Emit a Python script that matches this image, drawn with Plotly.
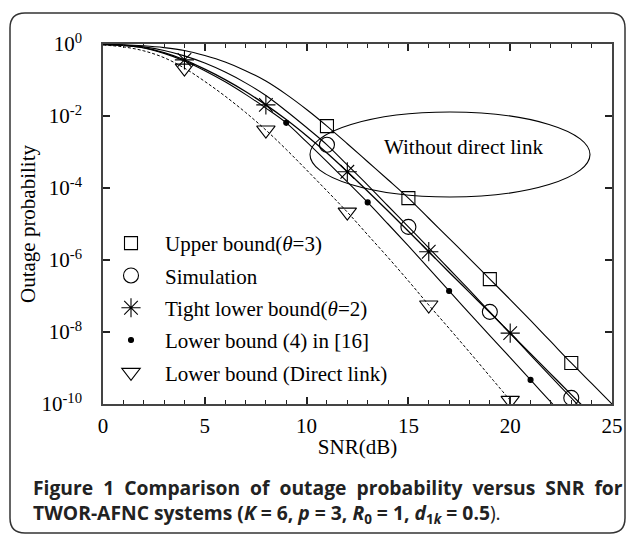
import plotly.graph_objects as go

# ---------------- data ----------------
snr = list(range(26))

# log10 of outage probability at each integer SNR (dB)
upper_exp = [-0.01, -0.02, -0.05, -0.10, -0.18, -0.32, -0.50, -0.74, -1.03, -1.40,
             -1.82, -2.28, -2.77, -3.27, -3.77, -4.28, -4.84, -5.40, -5.96, -6.53,
             -7.10, -7.68, -8.27, -8.86, -9.43, -10.0]
sim_exp = [-0.01, -0.03, -0.08, -0.18, -0.33, -0.53, -0.78, -1.08, -1.43, -1.86,
           -2.32, -2.80, -3.36, -3.92, -4.50, -5.08, -5.66, -6.25, -6.84, -7.44,
           -8.04, -8.64, -9.24, -9.83, -10.43]
tight_exp = [-0.01, -0.04, -0.10, -0.24, -0.44, -0.70, -0.99, -1.32, -1.69, -2.10,
             -2.55, -3.03, -3.55, -4.09, -4.64, -5.20, -5.77, -6.34, -6.90, -7.46,
             -8.03, -8.60, -9.17, -9.74, -10.30]
lb16_exp = [-0.01, -0.04, -0.11, -0.26, -0.47, -0.74, -1.05, -1.40, -1.78, -2.19,
            -2.72, -3.27, -3.83, -4.40, -5.00, -5.61, -6.23, -6.86, -7.48, -8.10,
            -8.71, -9.33, -9.95, -10.57]
direct_exp = [-0.03, -0.08, -0.19, -0.38, -0.67, -1.04, -1.45, -1.90, -2.39, -2.93,
              -3.50, -4.08, -4.67, -5.30, -5.93, -6.58, -7.25, -7.90, -8.56, -9.23,
              -9.90]

upper_marks = [11, 15, 19, 23]
sim_marks = [11, 15, 19, 23]
tight_marks = [4, 8, 12, 16, 20]
lb16_marks = [9, 13, 17, 21]
direct_marks = [4, 8, 12, 16, 20]

series_names = ["Upper bound(<i>θ</i>=3)", "Simulation", "Tight lower bound(<i>θ</i>=2)",
                "Lower bound (4) in [16]", "Lower bound (Direct link)"]

x_tick_vals = [0, 5, 10, 15, 20, 25]
y_tick_exps = [0, -2, -4, -6, -8, -10]
y_tick_text = ["10<sup>0</sup>", "10<sup>-2</sup>", "10<sup>-4</sup>", "10<sup>-6</sup>",
               "10<sup>-8</sup>", "10<sup>-10</sup>"]

ellipse_label = "Without direct link"
x_title = "SNR(dB)"
y_title = "Outage probability"
caption_1_words = ["Figure", "1", "Comparison", "of", "outage", "probability", "versus", "SNR", "for"]
caption_2 = ("<b>TWOR-AFNC systems (<i>K</i> = 6, <i>p</i> = 3, <i>R</i><sub>0</sub> = 1, "
             "<i>d</i><sub>1<i>k</i></sub> = 0.5</b>).")

# ---------------- figure ----------------
SERIF = "Liberation Serif, Times New Roman, serif"
W, H = 627, 534
ML, MR, MT, MB = 103, 15, 44, 130
PW, PH = W - ML - MR, H - MT - MB

styles = [
    dict(exps=upper_exp, marks=upper_marks, symbol="square-open", size=13, dash="solid", lw=1.1),
    dict(exps=sim_exp, marks=sim_marks, symbol="circle-open", size=15, dash="solid", lw=1.1),
    dict(exps=tight_exp, marks=tight_marks, symbol="asterisk-open", size=16, dash="solid", lw=1.3),
    dict(exps=lb16_exp, marks=lb16_marks, symbol="circle", size=5, dash="solid", lw=1.1),
    dict(exps=direct_exp, marks=direct_marks, symbol="triangle-down-open", size=16, dash="3px,2px", lw=1.0),
]

fig = go.Figure()
for i, (name, st) in enumerate(zip(series_names, styles)):
    xs = snr[:len(st["exps"])]
    ys = [10 ** e for e in st["exps"]]
    fig.add_trace(go.Scatter(x=xs, y=ys, mode="lines", showlegend=False,
                             line=dict(color="black", width=st["lw"], dash=st["dash"], shape="spline"),
                             hoverinfo="skip"))
    fig.add_trace(go.Scatter(x=st["marks"], y=[10 ** st["exps"][m] for m in st["marks"]],
                             mode="markers", name=name, legendgroup=f"g{i}",
                             marker=dict(symbol=st["symbol"], size=st["size"], color="black",
                                         line=dict(color="black", width=1.1)),
                             cliponaxis=True))

fig.update_layout(
    width=W, height=H,
    margin=dict(l=ML, r=MR, t=MT, b=MB, autoexpand=False),
    paper_bgcolor="white", plot_bgcolor="white",
    font=dict(family=SERIF, size=21, color="black"),
    showlegend=True,
    legend=dict(x=(97 - ML) / PW, y=1 - (223 - MT) / PH, xanchor="left", yanchor="top",
                bgcolor="rgba(0,0,0,0)", borderwidth=0, itemwidth=58,
                font=dict(family=SERIF, size=21, color="black"),
                traceorder="grouped", tracegroupgap=2),
    xaxis=dict(range=[0, 25], tickvals=x_tick_vals, ticks="inside", ticklen=7, tickwidth=1.5,
               tickcolor="#222", showline=True, linecolor="#444", linewidth=1.5, mirror="ticks",
               showgrid=False, zeroline=False, ticklabelstandoff=2,
               minor=dict(dtick=1, ticks="inside", ticklen=4, tickwidth=1, tickcolor="#222", showgrid=False),
               title=dict(text=x_title, standoff=2, font=dict(family=SERIF, size=21))),
    yaxis=dict(type="log", range=[-10, 0], tickvals=[10 ** e for e in y_tick_exps], ticktext=y_tick_text,
               ticks="inside", ticklen=7, tickwidth=1.5, tickcolor="#222", showline=True,
               linecolor="#444", linewidth=1.5, mirror="ticks", showgrid=False, zeroline=False,
               ticklabelstandoff=15,
               title=dict(text=y_title, standoff=0, font=dict(family=SERIF, size=21))),
)

# ellipse around the "without direct link" curves
fig.add_shape(type="circle", xref="paper", yref="paper",
              x0=(310 - ML) / PW, x1=(590 - ML) / PW,
              y0=1 - (197 - MT) / PH, y1=1 - (112 - MT) / PH,
              line=dict(color="black", width=1.1))
fig.add_annotation(xref="paper", yref="paper", x=(463 - ML) / PW, y=1 - (147 - MT) / PH,
                   text=ellipse_label, showarrow=False, font=dict(family=SERIF, size=21),
                   xanchor="center", yanchor="middle")

# caption (first line justified to the full width like the reference)
CAP_FONT = dict(family="Open Sans, Lato, sans-serif", size=19.3, color="#222")
caption_1 = "<b>" + " \u00a0".join(caption_1_words) + "</b>"
fig.add_annotation(xref="paper", yref="paper", x=(31 - ML) / PW, y=1 - (500.5 - MT) / PH,
                   text=caption_1 + "<br>" + caption_2, showarrow=False, font=CAP_FONT,
                   align="left", xanchor="left", yanchor="middle")

# rounded outer frame
def px(xp):
    return (xp - ML) / PW

def py(yp):
    return 1 - (yp - MT) / PH

L, R, T, B, r = 10, 625, 13, 533, 15
path = (f"M {px(L + r)},{py(T)} L {px(R - r)},{py(T)} Q {px(R)},{py(T)} {px(R)},{py(T + r)} "
        f"L {px(R)},{py(B - r)} Q {px(R)},{py(B)} {px(R - r)},{py(B)} "
        f"L {px(L + r)},{py(B)} Q {px(L)},{py(B)} {px(L)},{py(B - r)} "
        f"L {px(L)},{py(T + r)} Q {px(L)},{py(T)} {px(L + r)},{py(T)} Z")
fig.add_shape(type="path", xref="paper", yref="paper", path=path,
              line=dict(color="#333", width=1.5), layer="below")

fig.write_html("out.html", config={"displayModeBar": False},
               post_script="document.body.style.margin='0px';document.body.style.overflow='hidden';")
